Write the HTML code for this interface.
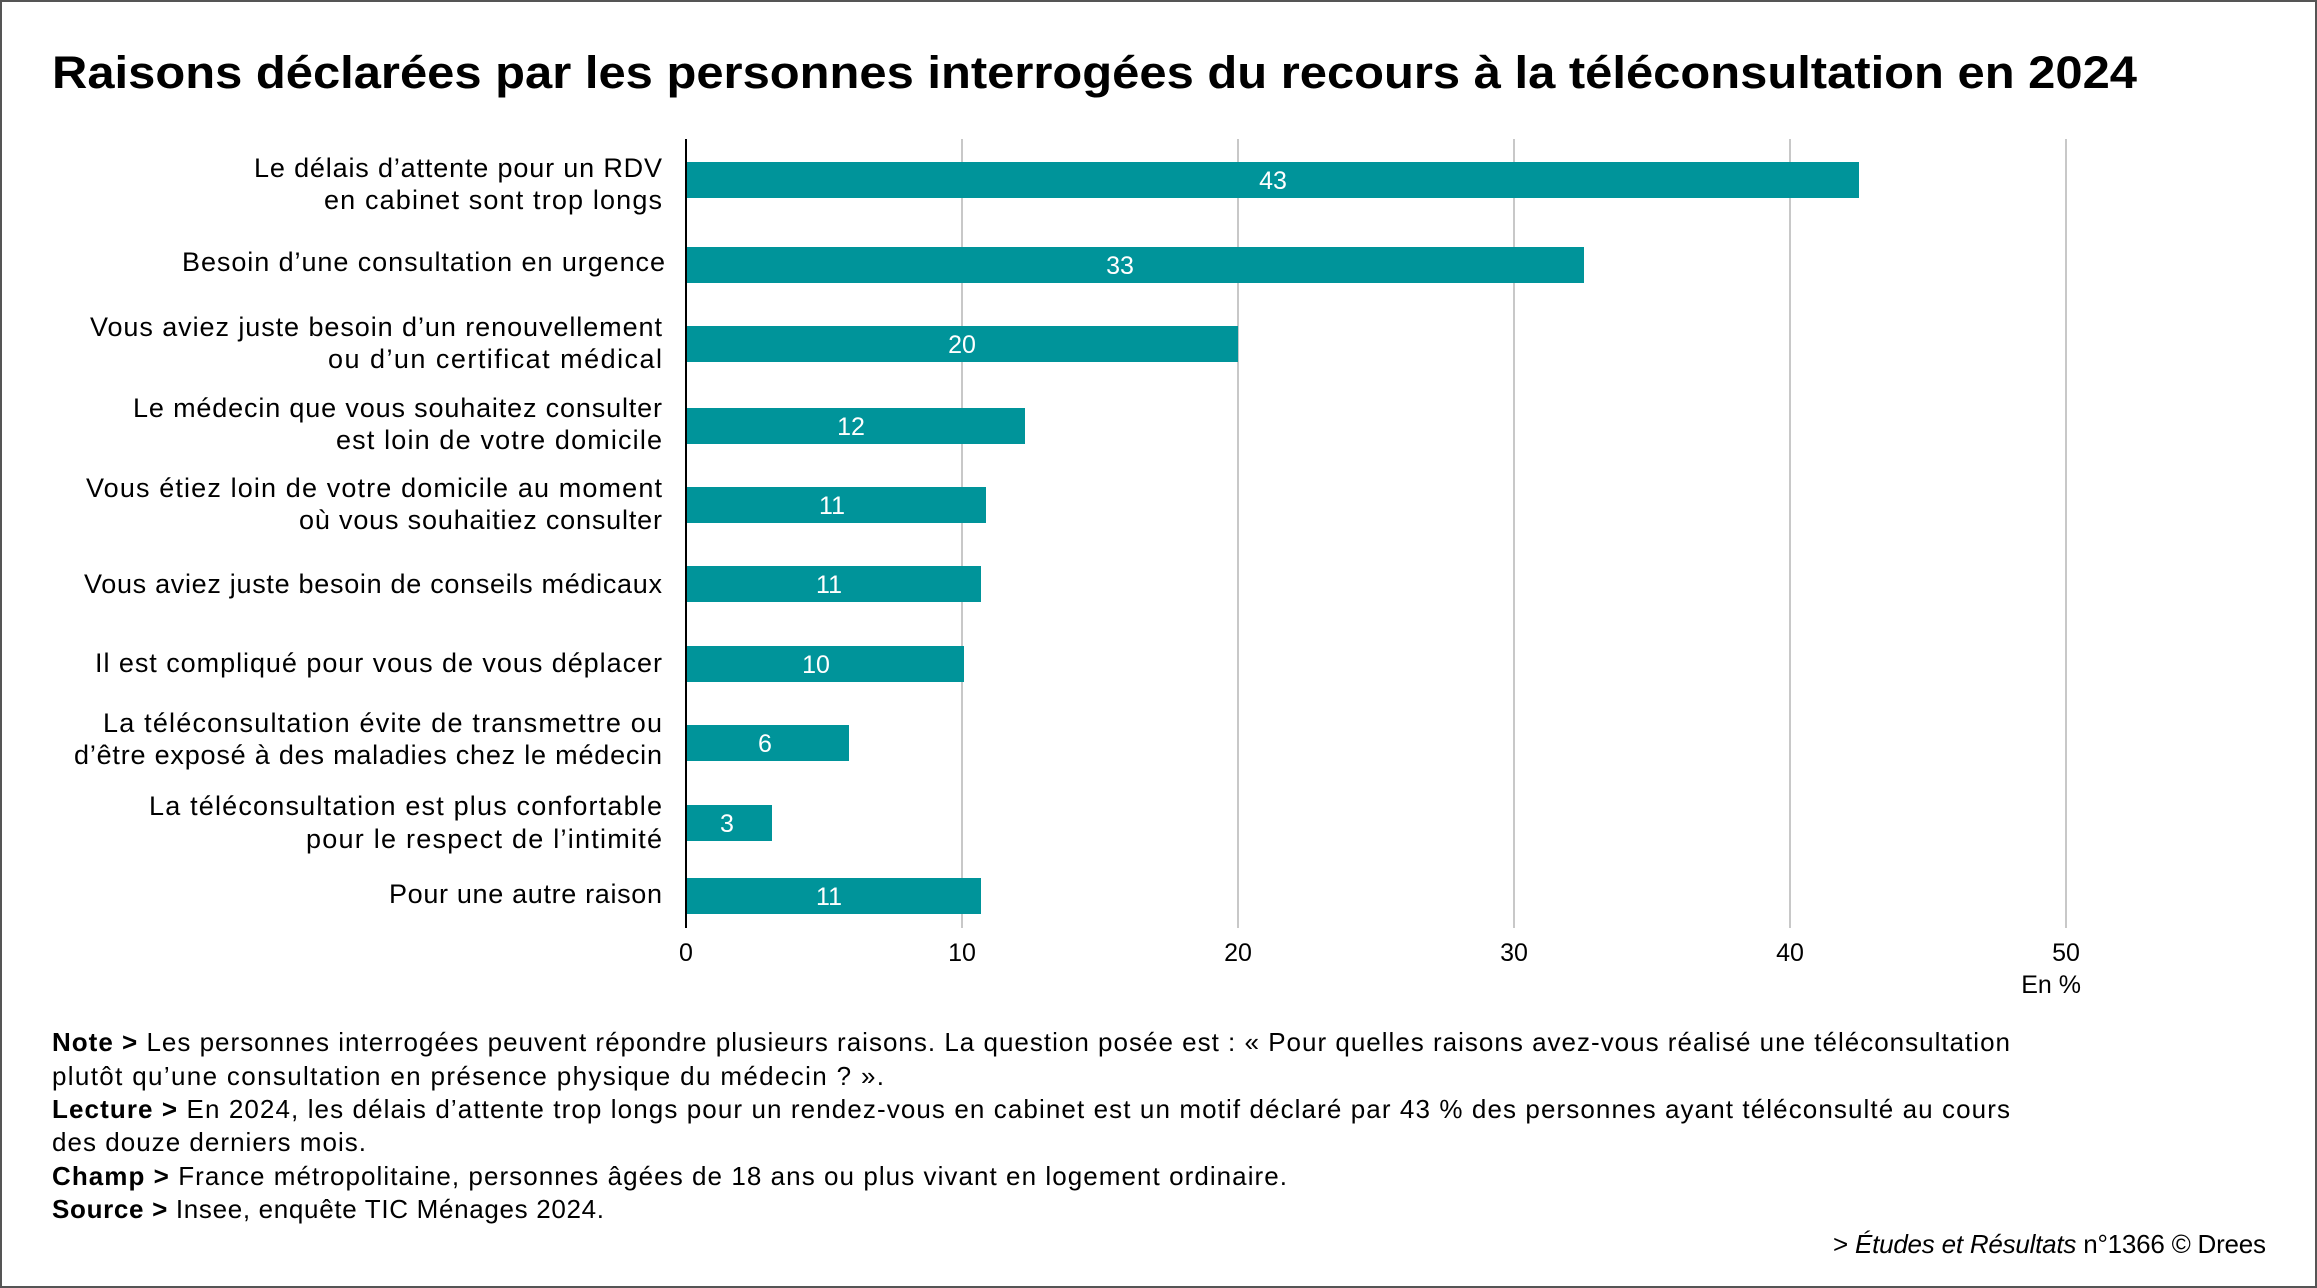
<!DOCTYPE html>
<html><head><meta charset="utf-8"><style>
html,body{margin:0;padding:0;background:#fff}
svg{display:block}
text{font-family:"Liberation Sans",sans-serif}
</style></head><body>
<svg width="2317" height="1288" viewBox="0 0 2317 1288" xmlns="http://www.w3.org/2000/svg">
<rect x="1" y="1" width="2315" height="1286" fill="#fff" stroke="#555" stroke-width="2"/>
<text x="52" y="88" font-size="45" font-weight="bold" fill="#000" textLength="2085" lengthAdjust="spacingAndGlyphs">Raisons déclarées par les personnes interrogées du recours à la téléconsultation en 2024</text>
<g stroke="#c8c8c8" stroke-width="2">
<line x1="962" y1="139" x2="962" y2="928"/><line x1="1238" y1="139" x2="1238" y2="928"/><line x1="1514" y1="139" x2="1514" y2="928"/><line x1="1790" y1="139" x2="1790" y2="928"/><line x1="2066" y1="139" x2="2066" y2="928"/>
</g>
<g fill="#00949a">
<rect x="686" y="162" width="1173" height="36"/>
<rect x="686" y="247" width="898" height="36"/>
<rect x="686" y="326" width="552" height="36"/>
<rect x="686" y="408" width="339" height="36"/>
<rect x="686" y="487" width="300" height="36"/>
<rect x="686" y="566" width="295" height="36"/>
<rect x="686" y="646" width="278" height="36"/>
<rect x="686" y="725" width="163" height="36"/>
<rect x="686" y="805" width="86" height="36"/>
<rect x="686" y="878" width="295" height="36"/>
</g>
<line x1="686" y1="139" x2="686" y2="928" stroke="#000" stroke-width="2"/>
<g fill="#fff" font-size="25" text-anchor="middle">
<text x="1273" y="189">43</text><text x="1120" y="274">33</text><text x="962" y="353">20</text><text x="851" y="435">12</text><text x="832" y="514">11</text><text x="829" y="593">11</text><text x="816" y="673">10</text><text x="765" y="752">6</text><text x="727" y="832">3</text><text x="829" y="905">11</text>
</g>
<g fill="#000" font-size="27" lengthAdjust="spacingAndGlyphs">
<text x="254" y="177" textLength="408">Le délais d’attente pour un RDV</text>
<text x="324" y="209" textLength="338">en cabinet sont trop longs</text>
<text x="182" y="271" textLength="483">Besoin d’une consultation en urgence</text>
<text x="90" y="336" textLength="572">Vous aviez juste besoin d’un renouvellement</text>
<text x="328" y="368" textLength="334">ou d’un certificat médical</text>
<text x="133" y="417" textLength="529">Le médecin que vous souhaitez consulter</text>
<text x="336" y="449" textLength="326">est loin de votre domicile</text>
<text x="86" y="497" textLength="576">Vous étiez loin de votre domicile au moment</text>
<text x="299" y="529" textLength="363">où vous souhaitiez consulter</text>
<text x="84" y="593" textLength="578">Vous aviez juste besoin de conseils médicaux</text>
<text x="95" y="672" textLength="567">Il est compliqué pour vous de vous déplacer</text>
<text x="103" y="732" textLength="559">La téléconsultation évite de transmettre ou</text>
<text x="74" y="764" textLength="588">d’être exposé à des maladies chez le médecin</text>
<text x="149" y="815" textLength="513">La téléconsultation est plus confortable</text>
<text x="306" y="848" textLength="356">pour le respect de l’intimité</text>
<text x="389" y="903" textLength="273">Pour une autre raison</text>
</g>
<g fill="#000" font-size="25" text-anchor="middle">
<text x="686" y="961">0</text><text x="962" y="961">10</text><text x="1238" y="961">20</text><text x="1514" y="961">30</text><text x="1790" y="961">40</text><text x="2066" y="961">50</text>
</g>
<text x="2081" y="993" font-size="25" text-anchor="end">En %</text>
<g fill="#000" font-size="26" lengthAdjust="spacingAndGlyphs">
<text x="52" y="1051" textLength="1958"><tspan font-weight="bold">Note &gt;</tspan> Les personnes interrogées peuvent répondre plusieurs raisons. La question posée est : « Pour quelles raisons avez-vous réalisé une téléconsultation</text>
<text x="52" y="1085" textLength="832">plutôt qu’une consultation en présence physique du médecin ? ».</text>
<text x="52" y="1118" textLength="1958"><tspan font-weight="bold">Lecture &gt;</tspan> En 2024, les délais d’attente trop longs pour un rendez-vous en cabinet est un motif déclaré par 43 % des personnes ayant téléconsulté au cours</text>
<text x="52" y="1151" textLength="314">des douze derniers mois.</text>
<text x="52" y="1185" textLength="1235"><tspan font-weight="bold">Champ &gt;</tspan> France métropolitaine, personnes âgées de 18 ans ou plus vivant en logement ordinaire.</text>
<text x="52" y="1218" textLength="552"><tspan font-weight="bold">Source &gt;</tspan> Insee, enquête TIC Ménages 2024.</text>
<text x="1833" y="1253" textLength="433">&gt; <tspan font-style="italic">Études et Résultats</tspan> n°1366 © Drees</text>
</g>
</svg>
</body></html>
